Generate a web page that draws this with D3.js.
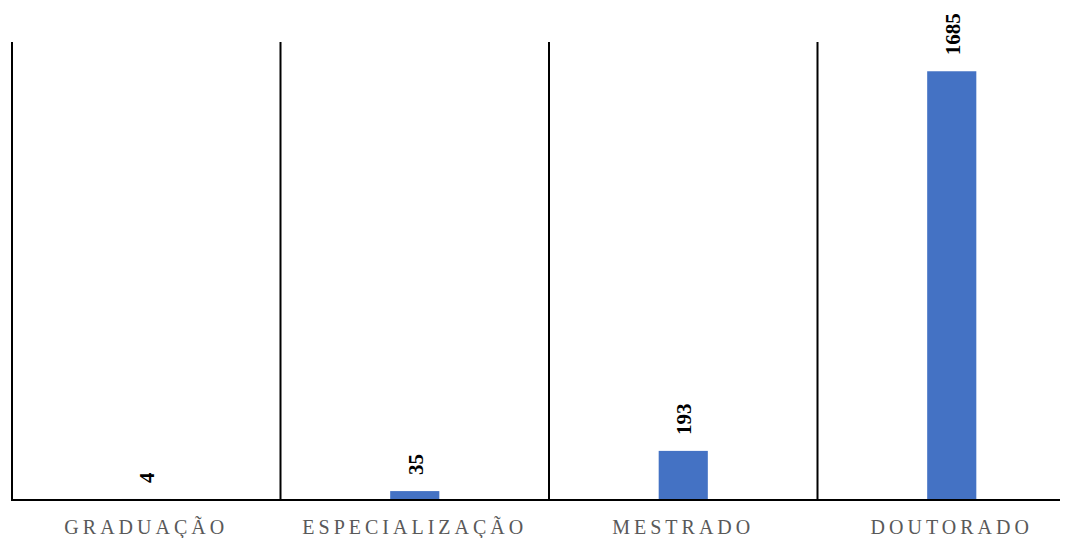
<!DOCTYPE html>
<html>
<head>
<meta charset="utf-8">
<script src="https://cdn.jsdelivr.net/npm/d3@7"></script>
<style>
  body { margin: 0; background: #fff; }
  svg { display: block; }
</style>
</head>
<body>
<div id="chart"></div>
<script>
let categories = ['GRADUAÇÃO', 'ESPECIALIZAÇÃO', 'MESTRADO', 'DOUTORADO'],
    values = [4, 35, 193, 1685],
    yMax = 1800;

let width = 1073,
    height = 538;

let x = d3.scaleBand().domain(categories).range([12, 1086]).paddingInner(0).paddingOuter(0);
let y = d3.scaleLinear().domain([0, yMax]).range([500, 42]);

let barW = x.bandwidth() * 0.183;

let svg = d3.select('#chart').append('svg')
    .attr('width', width)
    .attr('height', height);

// vertical separators at each category start
svg.append('g').selectAll('line')
    .data(categories)
    .enter().append('line')
    .attr('x1', d => x(d))
    .attr('x2', d => x(d))
    .attr('y1', y(yMax))
    .attr('y2', y(0))
    .style('stroke', '#000')
    .style('stroke-width', 2);

svg.append('g').selectAll('rect')
    .data(values)
    .enter().append('rect')
    .attr('x', (d, i) => x(categories[i]) + x.bandwidth() / 2 - barW / 2)
    .attr('y', d => y(d))
    .attr('width', barW)
    .attr('height', d => y(0) - y(d))
    .style('fill', '#4472C4');

// baseline
svg.append('line')
    .attr('x1', x.range()[0] - 1)
    .attr('x2', 1060)
    .attr('y1', y(0))
    .attr('y2', y(0))
    .style('stroke', '#000')
    .style('stroke-width', 2);

// value labels
svg.append('g').selectAll('text')
    .data(values)
    .enter().append('text')
    .attr('transform', (d, i) => 'translate(' + (x(categories[i]) + x.bandwidth() / 2 + 1) + ',' + (y(d) - 16) + ') rotate(-90)')
    .attr('text-anchor', 'start')
    .attr('dominant-baseline', 'central')
    .style('font-family', '"Liberation Serif", "Times New Roman", serif')
    .style('font-weight', 'bold')
    .style('font-size', '21px')
    .style('fill', '#000')
    .text(d => d);

// category labels
svg.append('g').selectAll('text')
    .data(categories)
    .enter().append('text')
    .attr('x', d => x(d) + x.bandwidth() / 2)
    .attr('y', 534)
    .attr('text-anchor', 'middle')
    .style('font-family', '"Liberation Serif", "Times New Roman", serif')
    .style('font-size', '20px')
    .style('letter-spacing', '4px')
    .style('fill', '#595959')
    .text(d => d);
</script>
</body>
</html>
